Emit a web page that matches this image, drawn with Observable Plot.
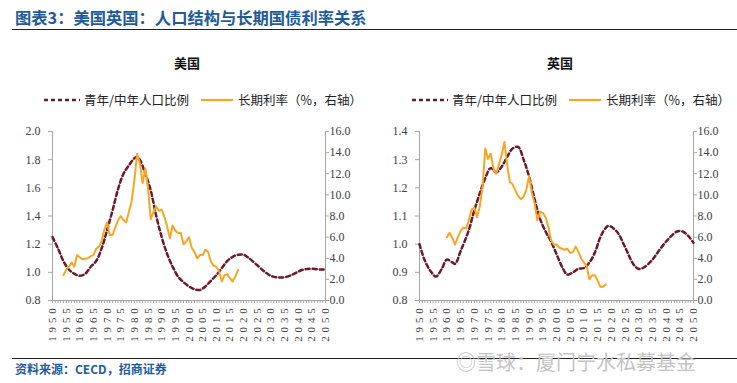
<!DOCTYPE html>
<html><head><meta charset="utf-8">
<script src="https://cdn.jsdelivr.net/npm/d3@7"></script>
<script src="https://cdn.jsdelivr.net/npm/@observablehq/plot@0.6"></script>
<style>
html,body{margin:0;padding:0;background:#fff;}
body{width:737px;height:383px;position:relative;overflow:hidden;font-family:"Noto Sans CJK SC","Noto Sans",sans-serif;}
.abs{position:absolute;white-space:nowrap;}
#hdr{left:15px;top:6px;font-size:16.3px;font-weight:bold;color:#1f5a99;line-height:22px;}
.hr{position:absolute;height:1px;background:#222;}
.ptitle{font-size:13px;font-weight:bold;color:#111;line-height:16px;transform:translateX(-50%);}
.leg{font-size:12.5px;color:#222;line-height:16px;display:flex;align-items:center;}
.leg svg{display:block;}
#src{left:15px;top:361px;font-size:12px;font-weight:bold;color:#1f5a99;line-height:16px;}
#wm{left:456px;top:349px;font-size:20px;color:#c4c4c4;line-height:26px;}
.panel{position:absolute;top:115px;}
.panel g[aria-label="x-axis tick label"] text{letter-spacing:3.8px;}
</style></head>
<body>
<div id="hdr" class="abs">图表3：美国英国：人口结构与长期国债利率关系</div>
<div class="hr" style="left:12px;top:29px;width:725px;"></div>

<div class="abs ptitle" style="left:187px;top:55px;">美国</div>
<div class="abs ptitle" style="left:560px;top:55px;">英国</div>

<div class="abs leg" style="left:43px;top:92px;">
  <svg width="38" height="10"><line x1="1" y1="5" x2="37" y2="5" stroke="#6b1a2b" stroke-width="2.5" stroke-dasharray="4,3"/></svg>
  <span style="margin-left:3px;">青年/中年人口比例</span>
  <svg width="34" height="10" style="margin-left:12px;"><line x1="0" y1="5" x2="32" y2="5" stroke="#f5a623" stroke-width="2.2"/></svg>
  <span style="margin-left:3px;">长期利率（%，右轴）</span>
</div>
<div class="abs leg" style="left:411px;top:92px;">
  <svg width="38" height="10"><line x1="1" y1="5" x2="37" y2="5" stroke="#6b1a2b" stroke-width="2.5" stroke-dasharray="4,3"/></svg>
  <span style="margin-left:3px;">青年/中年人口比例</span>
  <svg width="34" height="10" style="margin-left:12px;"><line x1="0" y1="5" x2="32" y2="5" stroke="#f5a623" stroke-width="2.2"/></svg>
  <span style="margin-left:3px;">长期利率（%，右轴）</span>
</div>

<div id="p1" class="panel" style="left:0px;"></div>
<div id="p2" class="panel" style="left:368px;"></div>

<div class="hr" style="left:12px;top:358px;width:725px;"></div>
<div id="wm" class="abs">◎雪球：厦门宁水私募基金</div>
<div id="src" class="abs">资料来源：CECD，招商证券</div>

<script>
// ---------- data ----------
const usRatioYears = [1950,1952,1954,1956,1958,1960,1962,1964,1966,1968,1970,1972,1974,1976,1978,1980,1981,1982,1984,1986,1988,1990,1992,1994,1996,1998,2000,2002,2004,2006,2008,2010,2012,2014,2016,2018,2020,2022,2025,2028,2030,2032,2035,2038,2040,2042,2045,2048,2050];
const usRatio = [1.25,1.17,1.08,1.02,0.99,0.975,0.99,1.04,1.08,1.17,1.30,1.44,1.59,1.70,1.76,1.81,1.82,1.80,1.70,1.58,1.40,1.25,1.13,1.04,0.97,0.93,0.90,0.88,0.875,0.90,0.94,0.98,1.03,1.08,1.11,1.125,1.125,1.10,1.05,1.00,0.975,0.965,0.965,0.985,1.005,1.02,1.025,1.02,1.02];

const usRateYears = d3.range(1954, 2019);
const usRate = [2.4,2.9,3.2,3.6,3.2,4.3,4.1,3.9,3.95,4.0,4.2,4.3,4.9,5.1,5.6,6.7,7.4,6.2,6.2,6.9,7.6,8.0,7.6,7.4,8.4,9.4,11.4,13.9,13.0,11.1,12.5,10.6,7.7,8.4,8.9,8.5,8.6,7.9,7.0,5.9,7.1,6.6,6.4,6.4,5.3,5.6,6.0,5.0,4.6,4.0,4.3,4.3,4.8,4.6,3.7,3.3,3.2,2.8,1.8,2.4,2.5,2.1,1.8,2.3,2.9];

const ukRatioYears = [1950,1952,1954,1956,1958,1960,1962,1963,1965,1968,1970,1972,1974,1976,1978,1980,1982,1984,1986,1988,1990,1992,1994,1996,1998,2000,2002,2004,2006,2008,2010,2012,2014,2016,2018,2019,2022,2025,2028,2030,2032,2035,2038,2041,2044,2046,2048,2050];
const ukRatio = [1.0,0.94,0.905,0.885,0.91,0.945,0.935,0.93,0.975,1.05,1.12,1.18,1.235,1.27,1.255,1.275,1.31,1.34,1.345,1.30,1.24,1.16,1.09,1.045,1.01,0.965,0.92,0.892,0.90,0.913,0.915,0.935,0.97,1.025,1.058,1.065,1.045,0.99,0.93,0.912,0.918,0.945,0.985,1.02,1.045,1.045,1.03,1.005];

const ukRateYears = d3.range(1960, 2019);
const ukRate = [6.0,6.4,5.9,5.3,6.0,6.6,6.9,6.8,7.6,8.6,8.8,7.9,8.9,10.7,14.4,13.4,13.9,12.5,12.0,12.9,13.8,15.0,12.8,11.2,11.0,10.4,9.9,9.6,9.8,10.5,11.8,10.2,9.2,7.6,8.4,8.3,7.9,7.0,5.7,5.3,5.3,5.0,4.9,4.8,4.9,4.5,4.6,5.1,4.6,4.0,3.6,3.3,2.0,2.4,2.4,1.9,1.3,1.3,1.5];

const usLeftTicks = [0.8,1.0,1.2,1.4,1.6,1.8,2.0];
const ukLeftTicks = [0.8,0.9,1.0,1.1,1.2,1.3,1.4];
const rateTicks = [0,2,4,6,8,10,12,14,16];
const yearLabels = d3.range(1950, 2051, 5);
const yearMinor = d3.range(1950, 2051, 1);

// ---------- chart ----------
function panel(el, {ratioYears, ratio, rateYears, rate, leftTicks, width, mL, mR}) {
  const y0 = leftTicks[0], y1 = leftTicks[leftTicks.length - 1];
  const toL = r => y0 + r * (y1 - y0) / 16;
  const fromL = v => (v - y0) * 16 / (y1 - y0);
  const ratioData = ratioYears.map((x, i) => ({x, y: ratio[i]}));
  const rateData = rateYears.map((x, i) => ({x, y: rate[i]}));
  const axisGray = "#a6a6a6";
  const chart = Plot.plot({
    width, height: 230,
    marginLeft: mL, marginRight: mR, marginTop: 16, marginBottom: 45,
    x: {domain: [1950, 2050], label: null},
    y: {domain: [y0, y1], label: null},
    style: {fontFamily: "'Liberation Serif','Times New Roman',serif", fontSize: "12px", color: "#404040", background: "transparent"},
    marks: [
      Plot.ruleX([1950, 2050], {stroke: axisGray}),
      Plot.ruleY([y0], {stroke: axisGray}),
      Plot.axisY(leftTicks, {anchor: "left", label: null, tickSize: 4, tickPadding: 8, stroke: axisGray, fill: "#404040", tickFormat: d => d.toFixed(1)}),
      Plot.axisY(rateTicks.map(toL), {anchor: "right", label: null, tickSize: 3, tickPadding: 1, stroke: axisGray, fill: "#404040", tickFormat: d => fromL(d).toFixed(1)}),
      Plot.axisX(yearMinor, {anchor: "bottom", label: null, tickSize: 3, stroke: axisGray, tickFormat: () => ""}),
      Plot.axisX(yearLabels, {anchor: "bottom", label: null, tickSize: 0, tickPadding: 4, tickRotate: -90, fill: "#404040", fontSize: 11, tickFormat: d => String(d)}),
      Plot.line(ratioData, {x: "x", y: "y", stroke: "#6b1a2b", strokeWidth: 2.5, strokeDasharray: "4,3", curve: "catmull-rom"}),
      Plot.line(rateData, {x: "x", y: d => toL(d.y), stroke: "#f5a623", strokeWidth: 2})
    ]
  });
  document.getElementById(el).appendChild(chart);
}

panel("p1", {ratioYears: usRatioYears, ratio: usRatio, rateYears: usRateYears, rate: usRate, leftTicks: usLeftTicks, width: 368, mL: 52, mR: 43});
panel("p2", {ratioYears: ukRatioYears, ratio: ukRatio, rateYears: ukRateYears, rate: ukRate, leftTicks: ukLeftTicks, width: 369, mL: 51, mR: 44});
</script>
</body></html>
